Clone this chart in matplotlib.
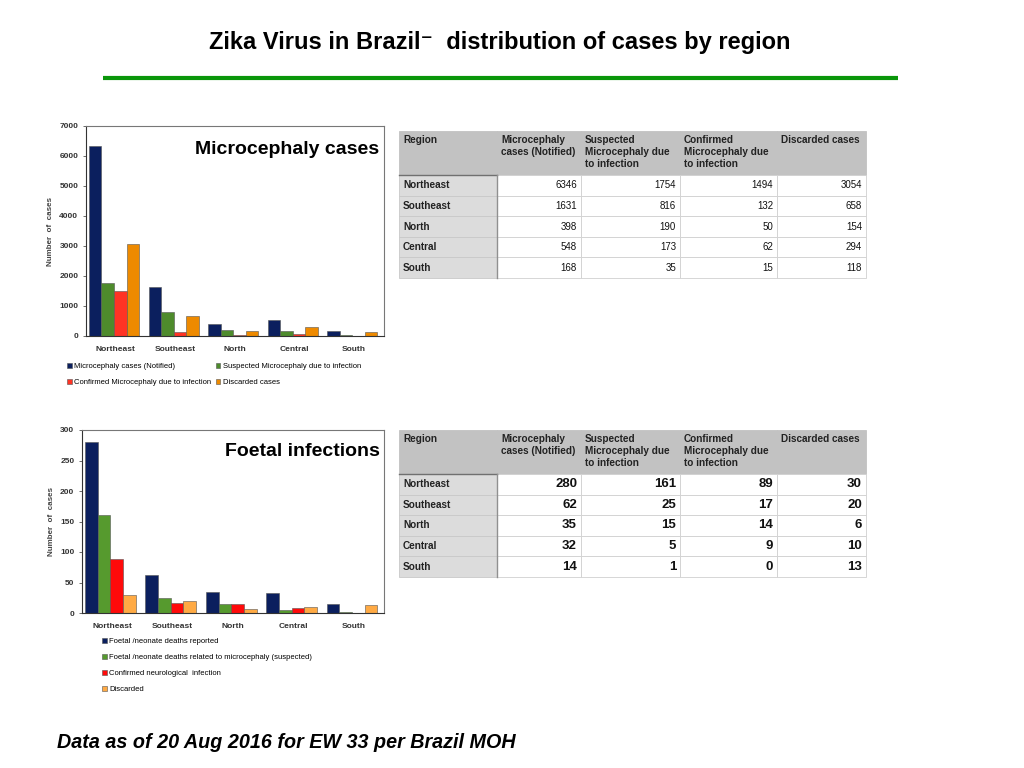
import matplotlib.pyplot as plt
from matplotlib.patches import Rectangle
import numpy as np

plt.rcParams['font.family'] = ['Liberation Sans', 'DejaVu Sans']

regioes = ['Northeast', 'Southeast', 'North', 'Central', 'South']

# microcefalia
micro_notificados = [6346, 1631, 398, 548, 168]
micro_suspeitos = [1754, 816, 190, 173, 35]
micro_confirmados = [1494, 132, 50, 62, 15]
micro_descartados = [3054, 658, 154, 294, 118]
micro_legendas = ['Microcephaly cases (Notified)', 'Suspected Microcephaly due to infection',
                  'Confirmed Microcephaly due to infection', 'Discarded cases']

# infeccoes fetais
fetal_obitos = [280, 62, 35, 32, 14]
fetal_suspeitos = [161, 25, 15, 5, 1]
fetal_confirmados = [89, 17, 14, 9, 0]
fetal_descartados = [30, 20, 6, 10, 13]
fetal_legendas = ['Foetal /neonate deaths reported',
                  'Foetal /neonate deaths related to microcephaly (suspected)',
                  'Confirmed neurological  infection', 'Discarded']

cabecalho_tabela = ['Region', 'Microcephaly\ncases (Notified)', 'Suspected\nMicrocephaly due\nto infection',
                    'Confirmed\nMicrocephaly due\nto infection', 'Discarded cases']

cores_micro = ['#0B1F5E', '#4E8B2C', '#FF3324', '#EE8A00']
cores_fetal = ['#0B1F5E', '#569A2E', '#FF0A0A', '#FFAA44']

fig = plt.figure(figsize=(10.24, 7.68), dpi=100)


def grafico_barras(pos, series, cores, ymax, passo, titulo, legendas, ncol, bbox, ordem, espaco_col):
    ax = fig.add_axes(pos)
    x = np.arange(len(regioes))
    largura = 0.21
    barras = []
    for i, (valores, cor) in enumerate(zip(series, cores)):
        b = ax.bar(x - 1.5 * largura + i * largura - 0.03, valores, largura, color=cor,
                   edgecolor='#555555', linewidth=0.4)
        barras.append(b)
    ax.set_xlim(-0.5, 4.5)
    ax.set_ylim(0, ymax)
    ax.set_yticks(np.arange(0, ymax + 1, passo))
    ax.set_xticks(x)
    ax.set_xticklabels(regioes)
    ax.tick_params(axis='both', labelsize=6, colors='#333333', length=2, width=0.5)
    ax.tick_params(axis='x', length=0, pad=7)
    for s in ['top', 'right']:
        ax.spines[s].set_color('#777777')
        ax.spines[s].set_linewidth(0.8)
    for s in ['left', 'bottom']:
        ax.spines[s].set_color('#333333')
        ax.spines[s].set_linewidth(0.8)
    for lbl in ax.get_xticklabels() + ax.get_yticklabels():
        lbl.set_fontweight('bold')
    ax.set_ylabel('Number  of  cases', fontsize=5.8, fontweight='bold', color='#444444', labelpad=4)
    ax.text(0.985, 0.93, titulo, transform=ax.transAxes, ha='right', va='top',
            fontsize=14, fontweight='bold')
    ax.legend([barras[k] for k in ordem], [legendas[k] for k in ordem], ncol=ncol, loc='upper left',
              bbox_to_anchor=bbox, bbox_transform=fig.transFigure, frameon=False, fontsize=5.5,
              handlelength=0.6, handleheight=0.6, handletextpad=0.3, columnspacing=espaco_col,
              labelspacing=1.15, borderaxespad=0)
    return ax


grafico_barras([86 / 1024, 1 - 336 / 768, 298 / 1024, 210 / 768],
               [micro_notificados, micro_suspeitos, micro_confirmados, micro_descartados],
               cores_micro, 7000, 1000, 'Microcephaly cases', micro_legendas, 2,
               (64 / 1024, 1 - 360 / 768), [0, 2, 1, 3], 0.6)

grafico_barras([82 / 1024, 1 - 613 / 768, 302 / 1024, 183 / 768],
               [fetal_obitos, fetal_suspeitos, fetal_confirmados, fetal_descartados],
               cores_fetal, 300, 50, 'Foetal infections', fetal_legendas, 1,
               (99 / 1024, 1 - 635 / 768), [0, 1, 2, 3], 0.3)

# camada de fundo em pixels para titulo, linha, tabelas e rodape
fundo = fig.add_axes([0, 0, 1, 1])
fundo.set_xlim(0, 1024)
fundo.set_ylim(768, 0)
fundo.axis('off')

fundo.text(500, 42, 'Zika Virus in Brazil\u207b  distribution of cases by region', ha='center', va='center',
           fontsize=17, fontweight='bold')
fundo.plot([103, 898], [78, 78], color='#0A960A', linewidth=3, solid_capstyle='butt')
fundo.text(57, 742, 'Data as of 20 Aug 2016 for EW 33 per Brazil MOH', ha='left', va='center',
           fontsize=14.2, fontweight='bold', style='italic')


def tabela(topo, series, tam_valor, peso_valor):
    colunas = [399, 497, 581, 680, 777, 866]
    alt_cab = 44
    alt_linha = 20.6
    # cabecalho
    for j in range(5):
        fundo.add_patch(Rectangle((colunas[j], topo), colunas[j + 1] - colunas[j], alt_cab,
                                  facecolor='#C2C2C2', edgecolor='#C2C2C2', linewidth=0.6))
        fundo.text(colunas[j] + 4, topo + 4, cabecalho_tabela[j], ha='left', va='top',
                   fontsize=7.2, fontweight='bold', color='#222222', linespacing=1.25)
    y = topo + alt_cab
    for i, regiao in enumerate(regioes):
        fundo.add_patch(Rectangle((colunas[0], y), colunas[1] - colunas[0], alt_linha,
                                  facecolor='#DCDCDC', edgecolor='#C8C8C8', linewidth=0.6))
        fundo.text(colunas[0] + 4, y + alt_linha / 2, regiao, ha='left', va='center',
                   fontsize=7.2, fontweight='bold', color='#222222')
        for j in range(4):
            fundo.add_patch(Rectangle((colunas[j + 1], y), colunas[j + 2] - colunas[j + 1], alt_linha,
                                      facecolor='white', edgecolor='#D0D0D0', linewidth=0.6))
            fundo.text(colunas[j + 2] - 4, y + alt_linha / 2, str(series[j][i]), ha='right', va='center',
                       fontsize=tam_valor, fontweight=peso_valor, color='#111111')
        y += alt_linha
    fundo.plot([colunas[0], colunas[1]], [topo + alt_cab, topo + alt_cab], color='#707070', linewidth=1)
    fundo.plot([colunas[1], colunas[1]], [topo + alt_cab, y], color='#909090', linewidth=1)


tabela(131, [micro_notificados, micro_suspeitos, micro_confirmados, micro_descartados], 7, 'normal')
tabela(430, [fetal_obitos, fetal_suspeitos, fetal_confirmados, fetal_descartados], 9.5, 'bold')

plt.savefig('out.png', dpi=100)
